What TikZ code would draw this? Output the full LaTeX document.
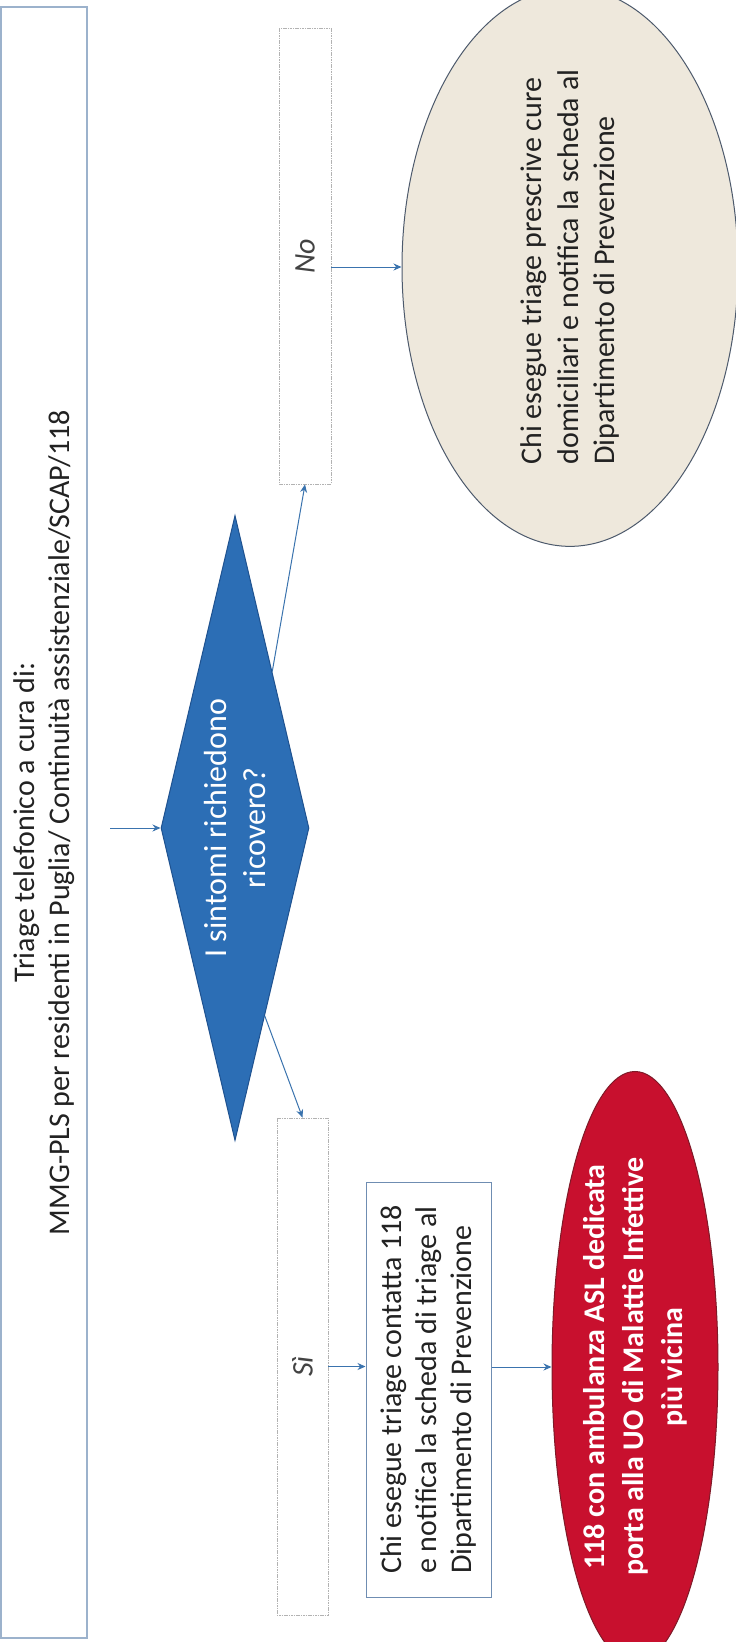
\documentclass[tikz,border=0pt]{standalone}
\usepackage{fontspec}
\setmainfont{Carlito}
\usetikzlibrary{shapes.geometric,arrows.meta,calc}
\definecolor{txtgray}{HTML}{222222}
\definecolor{titleborder}{HTML}{9CB2CC}
\definecolor{boxborder}{HTML}{6F8DB2}
\definecolor{arrblue}{HTML}{3A73AE}
\definecolor{diafill}{HTML}{2C6EB5}
\definecolor{diaborder}{HTML}{1F5290}
\definecolor{beige}{HTML}{EEE8DC}
\definecolor{beigeborder}{HTML}{4D5A6C}
\definecolor{redfill}{HTML}{C8102E}
\definecolor{redborder}{HTML}{7E1A28}
\begin{document}
\begin{tikzpicture}[x=1pt,y=-1pt,
  txt/.style={font=\fontsize{30}{35}\selectfont, text=txtgray},
  lblbox/.style={draw=gray!60, dash pattern=on 1.6pt off 0.8pt, line width=0.9pt, fill=white,
    rotate=90, inner sep=0pt, font=\fontsize{30}{35}\selectfont\itshape, text=txtgray!85},
  arr/.style={draw=arrblue, line width=1pt, -{Stealth[length=8pt,width=7pt]}}]
\useasboundingbox (0,0) rectangle (736,1642);
\clip (0,0) rectangle (736,1642);
\fill[white] (0,0) rectangle (736,1642);

% title box
\node[txt, draw=titleborder, line width=1.2pt, rotate=90, minimum width=1631pt, minimum height=86pt,
  inner sep=0pt, align=center] (title) at (44,822.5)
  {Triage telefonico a cura di:\\MMG-PLS per residenti in Puglia/ Continuità assistenziale/SCAP/118};

% decision diamond
\node[diamond, draw=diaborder, line width=1pt, fill=diafill, rotate=90, aspect=4.2,
  minimum width=625pt, minimum height=148pt, inner sep=0pt, align=center,
  font=\fontsize{32}{39}\selectfont, text=white] (dia) at (235,828)
  {I sintomi richiedono\\ricovero?};

% label boxes
\node[lblbox, minimum width=456pt, minimum height=52pt] (no) at (305,256) {No};
\node[lblbox, minimum width=497pt, minimum height=51pt] (si) at (302.5,1366.5) {Sì};

% action box
\node[txt, draw=boxborder, line width=1pt, fill=white, rotate=90, minimum width=415pt,
  minimum height=125pt, inner sep=0pt, align=left] (chi) at (428.5,1389.5)
  {Chi esegue triage contatta 118\\e notifica la scheda di triage al\\Dipartimento di Prevenzione};

% beige ellipse
\node[txt, ellipse, draw=beigeborder, line width=1pt, fill=beige, rotate=90, minimum width=542pt,
  minimum height=336pt, inner sep=0pt, align=left, font=\fontsize{30}{36.5}\selectfont] (ell) at (570,267)
  {Chi esegue triage prescrive cure\\domiciliari e notifica la scheda al\\Dipartimento di Prevenzione};

% red ellipse
\node[ellipse, draw=redborder, line width=1pt, fill=redfill, rotate=90, minimum width=526pt,
  minimum height=166pt, inner sep=0pt, align=center, font=\fontsize{30}{39}\selectfont\bfseries,
  text=white] (red) at (635,1367)
  {118 con ambulanza ASL dedicata\\porta alla UO di Malattie Infettive\\più vicina};

% connectors
\coordinate (start) at (110,828);
\draw[arr] (start) -- (dia.north);
\draw[arr] (dia.south east) -- (no.west);
\draw[arr] (dia.189) -- (si.east);
\draw[arr] (no.south |- ell.north) -- (ell.north);
\draw[arr] (si.south) -- (si.south -| chi.north);
\draw[arr] (chi.south |- red.north) -- (red.north);
\end{tikzpicture}
\end{document}
